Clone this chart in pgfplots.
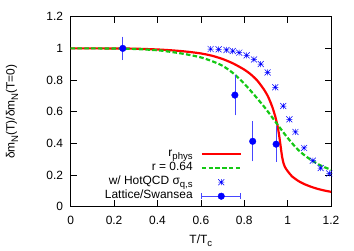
\documentclass[border=0pt]{standalone}
\usepackage{fontspec}
\setmainfont{Liberation Sans}
\usepackage{pgfplots}
\pgfplotsset{compat=1.18}
\definecolor{gpgreen}{RGB}{20,200,20}
\definecolor{gpblue}{RGB}{0,0,255}
\definecolor{gpebar}{RGB}{70,70,255}
\newcommand\sub[1]{\raisebox{-0.28em}{\fontsize{9.6}{10}\selectfont #1}}
\pgfdeclareplotmark{gpstar}{%
  \pgfpathmoveto{\pgfqpoint{-\pgfplotmarksize}{0pt}}\pgfpathlineto{\pgfqpoint{\pgfplotmarksize}{0pt}}%
  \pgfpathmoveto{\pgfqpoint{0pt}{-\pgfplotmarksize}}\pgfpathlineto{\pgfqpoint{0pt}{\pgfplotmarksize}}%
  \pgfpathmoveto{\pgfqpoint{-\pgfplotmarksize}{-\pgfplotmarksize}}\pgfpathlineto{\pgfqpoint{\pgfplotmarksize}{\pgfplotmarksize}}%
  \pgfpathmoveto{\pgfqpoint{-\pgfplotmarksize}{\pgfplotmarksize}}\pgfpathlineto{\pgfqpoint{\pgfplotmarksize}{-\pgfplotmarksize}}%
  \pgfusepathqstroke}
\begin{document}
\fontsize{12}{14}\selectfont
\begin{tikzpicture}
\begin{axis}[
  scale only axis, width=260.3bp, height=190bp,
  xmin=0, xmax=1.2, ymin=0, ymax=1.2,
  xtick={0,0.2,...,1.2}, ytick={0,0.2,...,1.2},
  xticklabels={0,0.2,0.4,0.6,0.8,1,1.2},
  yticklabels={0,0.2,0.4,0.6,0.8,1,1.2},
  tick align=inside, major tick length=6.5bp,
  tick style={black, line width=0.5pt},
  axis line style={black, line width=0.6pt},
  /pgf/number format/assume math mode=true,
  tick label style={font=\fontsize{12}{14}\selectfont},
  xticklabel style={yshift=-5bp},
  yticklabel style={xshift=-3.5bp},
  xlabel={T/T\sub{c}},
  ylabel={δm\sub{N}(T)/δm\sub{N}(T=0)},
  every axis x label/.style={at={(axis description cs:0.5,0)}, anchor=center, yshift=-34bp, font=\fontsize{12}{14}\selectfont},
  every axis y label/.style={at={(axis description cs:-0.2255,0.5)}, anchor=center, rotate=90, font=\fontsize{12}{14}\selectfont},
  legend plot pos=right,
  legend cell align=right,
  legend style={at={(axis cs:0.79,0.377)}, anchor=north east, draw=none, fill=none,
    inner sep=0pt, row sep=0pt, font=\fontsize{12}{14}\selectfont,
    nodes={inner sep=0pt, text height=9bp, text depth=5bp},
    /tikz/every odd column/.append style={column sep=8bp}},
]
\addplot[red, line width=2.2pt, smooth, tension=0.4,
  legend image code/.code={\draw[red, line width=2.2pt] (0bp,0bp) -- (39bp,0bp);}] coordinates {
(0,1) (0.1,1) (0.2,0.9995) (0.3,0.998) (0.4,0.993) (0.45,0.989) (0.5,0.984)
(0.55,0.977) (0.6,0.968) (0.65,0.954) (0.7,0.933) (0.75,0.904) (0.8,0.866)
(0.83,0.836) (0.86,0.797) (0.89,0.742) (0.91,0.695) (0.93,0.628) (0.945,0.56)
(0.955,0.50) (0.962,0.44) (0.968,0.38) (0.974,0.32) (0.98,0.28) (0.988,0.25)
(1.0,0.225) (1.02,0.192) (1.05,0.162) (1.08,0.141) (1.11,0.125) (1.14,0.112)
(1.17,0.102) (1.2,0.094)};
\addlegendentry{r\sub{phys}}
\addplot[gpgreen, line width=2.2pt, dash pattern=on 4.5bp off 2.3bp, smooth,
  legend image code/.code={\draw[gpgreen, line width=2.2pt, dash pattern=on 4.5bp off 2.3bp] (0bp,0bp) -- (39bp,0bp);}] coordinates {
(0,1) (0.1,1) (0.2,0.999) (0.3,0.996) (0.4,0.988) (0.45,0.98) (0.5,0.97)
(0.55,0.958) (0.6,0.943) (0.65,0.92) (0.7,0.89) (0.75,0.842) (0.8,0.777)
(0.85,0.70) (0.9,0.617) (0.95,0.525) (1.0,0.435) (1.05,0.357) (1.1,0.303)
(1.15,0.262) (1.2,0.233)};
\addlegendentry{r = 0.64}
\addplot[only marks, mark=gpstar, mark size=3bp, gpblue, line width=0.5pt,
  legend image code/.code={\draw[gpblue, line width=0.5pt, only marks, mark=gpstar, mark size=3bp] plot coordinates {(19.5bp,0bp)};}] coordinates {
(0.645,0.996) (0.682,0.994) (0.718,0.990) (0.747,0.983) (0.777,0.973)
(0.811,0.956) (0.845,0.930) (0.876,0.901) (0.908,0.848) (0.943,0.754)
(0.980,0.636) (1.008,0.552) (1.036,0.472) (1.076,0.371) (1.116,0.291)
(1.152,0.244) (1.192,0.210)};
\addlegendentry{w/ HotQCD σ\sub{q,s}}
\addplot[only marks, mark=*, mark size=3.3bp, gpblue,
  legend image code/.code={\draw[gpebar, line width=0.6pt] (0bp,0bp) -- (39bp,0bp) (0bp,-3bp) -- (0bp,3bp) (39bp,-3bp) -- (39bp,3bp); \fill[gpblue] (19.5bp,0bp) circle (3.3bp);},
  error bars/.cd, y dir=both, y explicit,
  error bar style={line width=0.6pt, draw=gpebar},
  error mark options={line width=0.6pt, mark size=3bp, draw=gpebar}]
  coordinates {
(0.240,1.0) +- (0,0.055)
(0.757,0.705) +- (0,0.11)
(0.839,0.413) +- (0,0.108)
(0.947,0.395) +- (0,0.093)};
\addlegendentry{Lattice/Swansea}
\end{axis}
\path (current axis.south west) ++(-70.7bp,-41.3bp) rectangle ++(354bp,248bp);
\end{tikzpicture}
\end{document}
